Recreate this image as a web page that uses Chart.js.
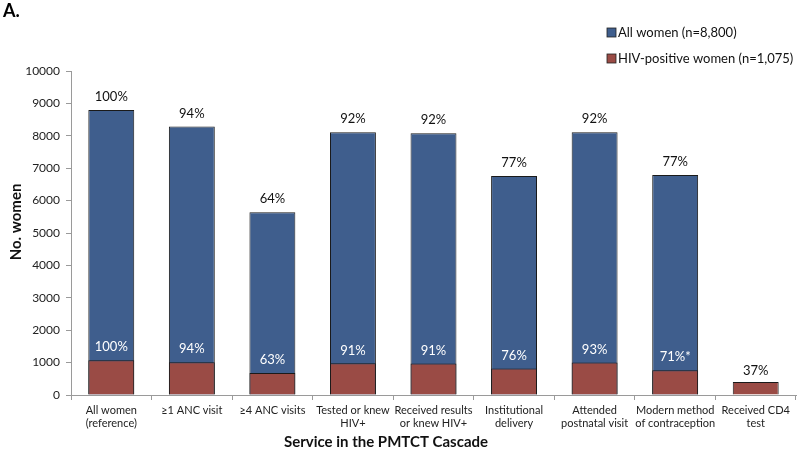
<!DOCTYPE html>
<html>
<head>
<meta charset="utf-8">
<script src="https://cdn.jsdelivr.net/npm/chart.js@4.4.1/dist/chart.umd.min.js"></script>
<style>
  html, body { margin: 0; padding: 0; background: #fff; }
  #wrap { width: 800px; height: 460px; position: relative; }
</style>
</head>
<body>
<div id="wrap"><canvas id="cascade"></canvas></div>
<script>
// categories along the PMTCT cascade
const services = [
  ["All women", "(reference)"],
  "\u22651 ANC visit",
  "\u22654 ANC visits",
  ["Tested or knew", "HIV+"],
  ["Received results", "or knew HIV+"],
  ["Institutional", "delivery"],
  ["Attended", "postnatal visit"],
  ["Modern method", "of contraception"],
  ["Received CD4", "test"]
];
const allWomen = [8800, 8290, 5640, 8110, 8080, 6760, 8110, 6790, null];
const hivWomen = [1075, 1010, 677, 978, 975, 817, 1000, 763, 398];
const allPct = ["100%", "94%", "64%", "92%", "92%", "77%", "92%", "77%", ""];
const hivPct = ["100%", "94%", "63%", "91%", "91%", "76%", "93%", "71%*", "37%"];
const yTicks = [0, 1000, 2000, 3000, 4000, 5000, 6000, 7000, 8000, 9000, 10000];
const legendNames = ["All women (n=8,800)", "HIV-positive women (n=1,075)"];

const BLUE = "#3F5E8D";
const RED = "#9A4B45";
const FONT = "Lato, 'Open Sans', sans-serif";

const pctLabels = {
  id: "pctLabels",
  afterDatasetsDraw(chart) {
    const ctx = chart.ctx;
    ctx.save();
    ctx.font = "13px " + FONT;
    ctx.textAlign = "center";
    ctx.textBaseline = "middle";
    const blue = chart.getDatasetMeta(1).data;
    const red = chart.getDatasetMeta(0).data;
    blue.forEach((bar, i) => {
      if (allWomen[i] == null) return;
      ctx.fillStyle = "#111";
      ctx.fillText(allPct[i], bar.x, bar.y - 13);
    });
    red.forEach((bar, i) => {
      ctx.fillStyle = allWomen[i] == null ? "#111" : "#fff";
      ctx.fillText(hivPct[i], bar.x, bar.y - (allWomen[i] == null ? 11 : 13));
    });

    // panel letter
    ctx.fillStyle = "#000";
    ctx.textAlign = "left";
    ctx.font = "bold 18px " + FONT;
    ctx.fillText("A.", 3, 11);

    // legend
    ctx.font = "13px " + FONT;
    [BLUE, RED].forEach((c, k) => {
      const y = 33 + k * 26;
      ctx.fillStyle = c;
      ctx.fillRect(607, y - 5, 9, 9);
      ctx.strokeStyle = "#222";
      ctx.lineWidth = 0.8;
      ctx.strokeRect(607, y - 5, 9, 9);
      ctx.fillStyle = "#111";
      ctx.fillText(legendNames[k], 618, y);
    });

    // axis titles
    ctx.font = "bold 15px " + FONT;
    ctx.textAlign = "center";
    ctx.fillText("Service in the PMTCT Cascade", 386, 442);
    ctx.translate(16, 222);
    ctx.rotate(-Math.PI / 2);
    ctx.fillText("No. women", 0, 0);
    ctx.restore();
  }
};

new Chart(document.getElementById("cascade"), {
  type: "bar",
  data: {
    labels: services,
    datasets: [
      {
        label: legendNames[1],
        data: hivWomen,
        backgroundColor: RED,
        borderColor: "#1a1a1a",
        borderWidth: 1,
        order: 0
      },
      {
        label: legendNames[0],
        data: allWomen,
        backgroundColor: BLUE,
        borderColor: "#1a1a1a",
        borderWidth: 1,
        order: 1
      }
    ]
  },
  options: {
    responsive: true,
    maintainAspectRatio: false,
    animation: false,
    datasets: { bar: { barPercentage: 0.57, categoryPercentage: 1 } },
    layout: { padding: { top: 71, right: 4, left: 0, bottom: 0 } },
    plugins: {
      legend: { display: false },
      tooltip: { enabled: false }
    },
    scales: {
      x: {
        stacked: true,
        afterFit: (s) => { s.height = 65; },
        border: { color: "#9a9a9a" },
        grid: { drawOnChartArea: false, color: "#9a9a9a", tickLength: 5, offset: true },
        ticks: { color: "#222", font: { family: FONT, size: 11 }, padding: 4, maxRotation: 0, autoSkip: false }
      },
      y: {
        stacked: false,
        min: 0,
        max: 10000,
        afterFit: (s) => { s.width = 71; },
        afterBuildTicks: (s) => { s.ticks = yTicks.map(v => ({ value: v })); },
        border: { color: "#9a9a9a" },
        grid: { drawOnChartArea: false, color: "#9a9a9a", tickLength: 5 },
        ticks: { color: "#222", font: { family: FONT, size: 12 }, padding: 6, callback: (v) => String(v) }
      }
    }
  },
  plugins: [pctLabels]
});
</script>
</body>
</html>
